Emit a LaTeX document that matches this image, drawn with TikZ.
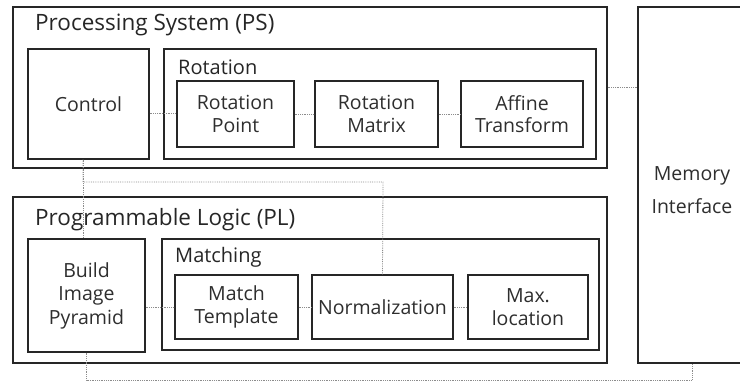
\documentclass[tikz,border=0pt]{standalone}
\usepackage{fontspec}
\setmainfont{Open Sans}
\usetikzlibrary{calc}
\begin{document}
\begin{tikzpicture}[x=1pt,y=-1pt,
  box/.style={draw=black!85, line width=1.2pt, fill=white, inner sep=0pt, text=black!82,
    align=center, font=\fontsize{19.5}{22.5}\selectfont},
  ttl/.style={anchor=west, inner sep=0pt, text=black!85, font=\fontsize{22.5}{26}\selectfont},
  sub/.style={anchor=west, inner sep=0pt, text=black!85, font=\fontsize{20}{24}\selectfont},
  conn/.style={draw=black!45, densely dotted, line width=0.8pt}]
\useasboundingbox (0,0) rectangle (740,383);
% Processing System
\node[box, minimum width=594, minimum height=161] (PS) at (310,87.5) {};
\node[ttl] (PSt) at (35,25) {Processing System (PS)};
\node[box, minimum width=121, minimum height=110] (ctrl) at (88.5,104) {Control};
\node[box, minimum width=432, minimum height=110] (rot) at (380,104) {};
\node[sub] (rott) at (178,67) {Rotation};
\node[box, minimum width=117, minimum height=66] (rp) at (235.5,114) {Rotation\\Point};
\node[box, minimum width=123, minimum height=66] (rm) at (376.5,114) {Rotation\\Matrix};
\node[box, minimum width=122, minimum height=66] (af) at (522,114) {Affine\\Transform};
% Programmable Logic
\node[box, minimum width=594, minimum height=166] (PL) at (310,280) {};
\node[ttl] (PLt) at (35,220) {Programmable Logic (PL)};
\node[box, minimum width=117, minimum height=113] (bip) at (86.5,295.5) {Build\\[1pt]Image\\[1pt]Pyramid};
\node[box, minimum width=437, minimum height=111] (mat) at (380.5,294.5) {};
\node[sub] (matt) at (175,257) {Matching};
\node[box, minimum width=123, minimum height=64] (mt) at (236.5,307) {Match\\Template};
\node[box, minimum width=141, minimum height=64] (nz) at (382.5,307) {Normalization};
\node[box, minimum width=120, minimum height=64] (mx) at (528,307) {Max.\\location};
% Memory Interface
\node[box, minimum width=108, minimum height=356] (mem) at (692,185) {};
\node[inner sep=0pt, align=center, text=black!82, font=\fontsize{19.5}{22.5}\selectfont] (memt) at (692,190) {Memory\\[11pt]Interface};
% connectors
\coordinate (jn) at (383,182);
\coordinate (jb) at (87,380);
\draw[conn] ($(rp.west -| ctrl.east)+(0,-1)$) -- ($(rp.west)+(0,-1)$);
\draw[conn] (rp.east) -- (rm.west);
\draw[conn] (rm.east) -- (af.west);
\draw[conn] (PS.east) -- (PS.east -| mem.west);
\draw[conn] ([xshift=-5.5pt]ctrl.south) -- ([xshift=-3.5pt]bip.north);
\draw[conn] ([xshift=-5.5pt]ctrl.south) |- (jn) -- (nz.north);
\draw[conn] (bip.south) -- (bip.south |- jb) -| (mem.south);
\draw[conn] (mt.west -| bip.east) -- (mt.west);
\draw[conn] (mt.east) -- (nz.west);
\draw[conn] (nz.east) -- (mx.west);
\end{tikzpicture}
\end{document}
